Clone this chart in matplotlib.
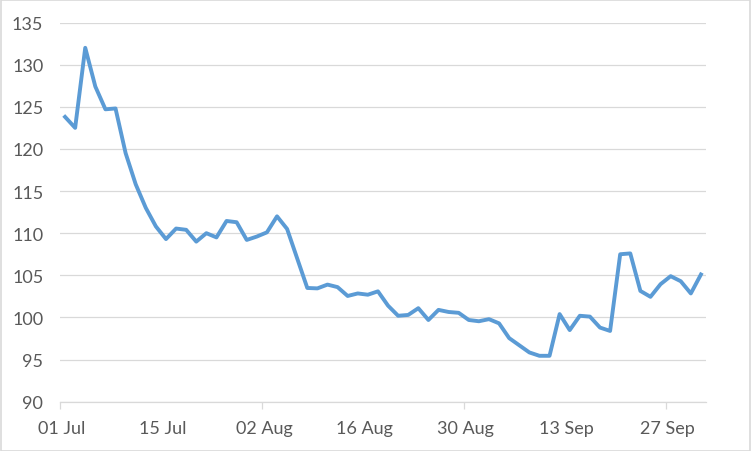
import matplotlib.pyplot as plt
from matplotlib.patches import Rectangle

# values, one per category
values = [123.8, 122.5, 132.0, 127.4, 124.7, 124.8, 119.5, 115.8, 113.0, 110.8,
          109.3, 110.55, 110.4, 109.0, 110.0, 109.5, 111.45, 111.3, 109.2, 109.6,
          110.1, 112.0, 110.5, 107.0, 103.5, 103.45, 103.9, 103.6, 102.55, 102.85,
          102.7, 103.1, 101.4, 100.2, 100.3, 101.1, 99.7, 100.9, 100.65, 100.55,
          99.7, 99.55, 99.8, 99.3, 97.55, 96.7, 95.85, 95.45, 95.45, 100.4,
          98.5, 100.2, 100.1, 98.8, 98.4, 107.5, 107.6, 103.15, 102.45, 103.95,
          104.9, 104.3, 102.85, 105.1]
tick_labels = ["01 Jul", "15 Jul", "02 Aug", "16 Aug", "30 Aug", "13 Sep", "27 Sep"]
label_step = 10
yticks = [90, 95, 100, 105, 110, 115, 120, 125, 130, 135]

plt.rcParams['font.family'] = ['Lato', 'DejaVu Sans']

fig = plt.figure(figsize=(7.52, 4.52), dpi=100)
fig.patches.append(Rectangle((0.001, 0.001), 0.997, 0.996, transform=fig.transFigure,
                             fill=False, edgecolor='#d9d9d9', linewidth=1.2))
ax = fig.add_axes([0.0798, 0.109, 0.859, 0.839])

x = list(range(len(values)))
ax.plot(x, values, color='#5b9bd5', linewidth=2.8, solid_joinstyle='round', zorder=3)

ax.set_ylim(90, 135)
ax.set_xlim(-0.5, len(values) - 0.5)
ax.set_yticks(yticks)
ax.grid(axis='y', color='#d9d9d9', linewidth=0.9)
ax.set_axisbelow(True)

ax.set_xticks([i - 0.5 for i in range(0, len(values), 2 * label_step)])
ax.set_xticklabels([])
ax.set_xticks([i * label_step - 0.3 for i in range(len(tick_labels))], minor=True)
ax.set_xticklabels(tick_labels, minor=True)
ax.tick_params(axis='x', which='major', length=5, color='#d9d9d9', width=0.9)
ax.tick_params(axis='x', which='minor', length=0, pad=13, labelsize=13, labelcolor='#595959')
ax.tick_params(axis='y', length=0, pad=12, labelsize=13, labelcolor='#595959')

for s in ['top', 'right', 'left']:
    ax.spines[s].set_visible(False)
ax.spines['bottom'].set_color('#d9d9d9')
ax.spines['bottom'].set_linewidth(0.9)

fig.savefig('out.png', dpi=100)
